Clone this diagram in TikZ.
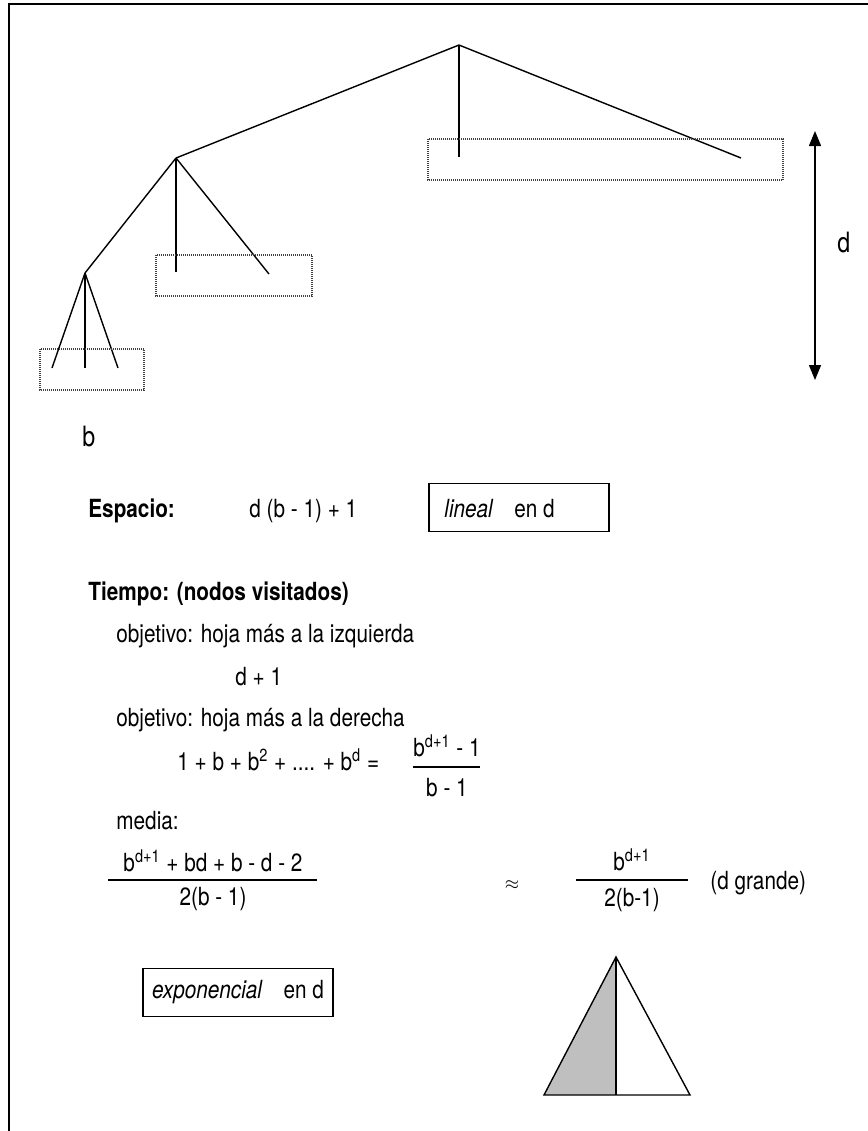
\documentclass[tikz,border=0pt]{standalone}
\usepackage{fontspec}
\setmainfont{TeX Gyre Heros}[FakeStretch=0.83]
\usetikzlibrary{arrows.meta,positioning}

\begin{document}
\begin{tikzpicture}[
  x=0.5pt, y=-0.5pt,
  font=\fontsize{12.5}{15}\selectfont,
  edge/.style={line width=0.7pt},
  dotbox/.style={draw=black!75, dash pattern=on 0.5pt off 0.5pt, line width=0.6pt},
  txt/.style={inner sep=0pt, anchor=base west},
  fr/.style={inner sep=0pt, anchor=base},
  boxed/.style={draw, line width=0.6pt, inner sep=0pt, minimum height=24pt},
  >={Triangle[length=7.5pt,width=6pt]}
]
  \useasboundingbox (0,0) rectangle (868,1131);
  \draw[line width=0.9pt] (9,1131) -- (9,4) -- (868,4);

  % search tree
  \coordinate (root) at (459,45);
  \coordinate (n1) at (176,158);
  \coordinate (n2) at (85,273);
  \coordinate (r1) at (459,157);
  \coordinate (r2) at (741,158);
  \coordinate (m1) at (176,272);
  \coordinate (m2) at (269,274);
  \coordinate (l1) at (52,368);
  \coordinate (l2) at (85,368);
  \coordinate (l3) at (118,368);
  \foreach \c in {n1,r1,r2} \draw[edge] (root) -- (\c);
  \foreach \c in {n2,m1,m2} \draw[edge] (n1) -- (\c);
  \foreach \c in {l1,l2,l3} \draw[edge] (n2) -- (\c);

  \draw[dotbox] (428,139) rectangle (783,180);
  \draw[dotbox] (156,255) rectangle (312,296);
  \draw[dotbox] (40,349) rectangle (144,390);

  % depth
  \coordinate (dtop) at (815,131);
  \coordinate (dbot) at (815,380);
  \draw[<->, edge] (dtop) -- (dbot);
  \node[txt, font=\fontsize{14}{17}\selectfont] (dlab) at (837,252) {d};
  \node[txt, font=\fontsize{14}{17}\selectfont] (blab) at (82,446) {b};

  % space
  \node[txt] (esp) at (88,517) {\textbf{Espacio:}};
  \node[txt] (espf) at (249,517) {d (b - 1) + 1};
  \node[boxed, minimum width=90pt] (lin) at (519,507.5) {};
  \node[txt] (lintx) at (444,517) {\textit{lineal}\hspace{0.6em} en d};

  % time
  \node[txt] (tiem) at (88,600) {\textbf{Tiempo: (nodos visitados)}};
  \node[txt] (obj1) at (116,642) {objetivo: hoja más a la izquierda};
  \node[txt] (f1) at (235,685) {d + 1};
  \node[txt] (obj2) at (116,726) {objetivo: hoja más a la derecha};
  \node[txt] (sum) at (177,770) {1 + b + b\textsuperscript{2} + .... + b\textsuperscript{d} =};
  \node[fr] (num1) at (447,756) {b\textsuperscript{d+1} - 1};
  \node[fr] (den1) at (447,796) {b - 1};
  \draw[line width=0.6pt] (413,767) -- (480,767);

  \node[txt] (med) at (116,829) {media:};
  \node[fr] (num2) at (213,871) {b\textsuperscript{d+1} + bd + b - d - 2};
  \node[fr] (den2) at (213,905) {2(b - 1)};
  \draw[line width=0.6pt] (108,880) -- (317,880);
  \node (aprox) at (512,885) {\small$\approx$};
  \node[fr] (num3) at (632,870) {b\textsuperscript{d+1}};
  \node[fr] (den3) at (632,906) {2(b-1)};
  \draw[line width=0.6pt] (576,880) -- (688,880);
  \node[txt] (gr) at (710,889) {(d grande)};

  \node[boxed, minimum width=95pt] (expo) at (238,992.5) {\textit{exponencial}\hspace{0.6em} en d};

  % shaded half
  \coordinate (apex) at (616,957);
  \coordinate (bl) at (544,1095);
  \coordinate (bm) at (616,1095);
  \coordinate (br) at (690,1095);
  \fill[black!25] (apex) -- (bl) -- (bm) -- cycle;
  \draw[edge, line join=miter] (apex) -- (bl) -- (br) -- cycle;
  \draw[edge] (apex) -- (bm);
\end{tikzpicture}
\end{document}
